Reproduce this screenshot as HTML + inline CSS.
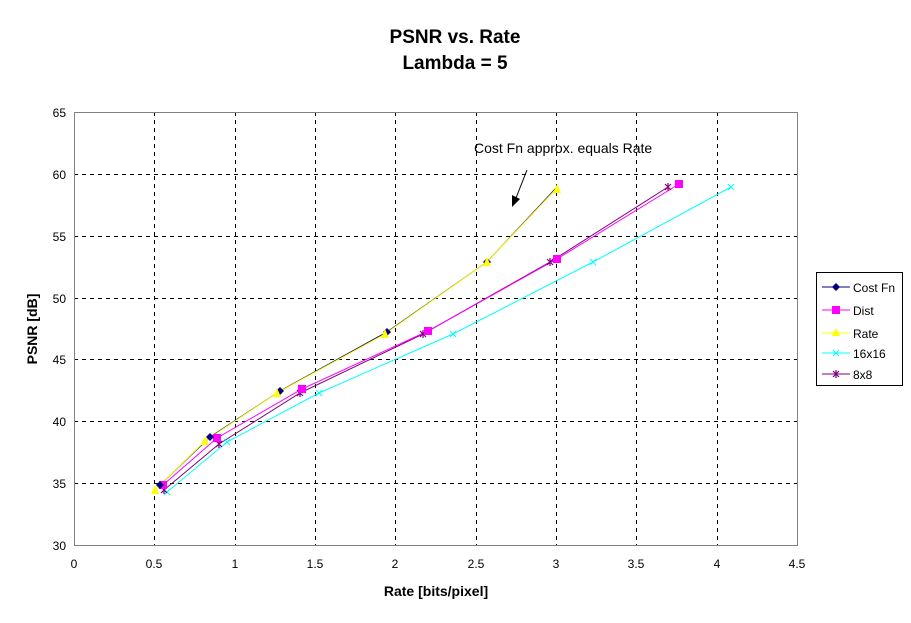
<!DOCTYPE html>
<html><head><style>body{margin:0;background:#fff}svg{display:block}</style></head><body>
<svg width="911" height="623" xmlns="http://www.w3.org/2000/svg" font-family="Liberation Sans, Arial, sans-serif">
<defs>
<g id="xm"><path d="M-3,-3L3,3M-3,3L3,-3" stroke="#00ffff" stroke-width="1"/></g>
<g id="st"><path d="M-3,-3L3,3M-3,3L3,-3M0,-4L0,4" stroke="#800080" stroke-width="1.2"/></g>
</defs>
<rect width="911" height="623" fill="#fff"/>
<text x="455" y="43" font-size="19" font-weight="bold" text-anchor="middle">PSNR vs. Rate</text>
<text x="455" y="69" font-size="19" font-weight="bold" text-anchor="middle">Lambda = 5</text>
<g stroke="#000" stroke-dasharray="4,4" stroke-width="1" shape-rendering="crispEdges">
<line x1="74" y1="174.5" x2="797" y2="174.5"/><line x1="74" y1="236.5" x2="797" y2="236.5"/><line x1="74" y1="298.5" x2="797" y2="298.5"/><line x1="74" y1="359.5" x2="797" y2="359.5"/><line x1="74" y1="421.5" x2="797" y2="421.5"/><line x1="74" y1="483.5" x2="797" y2="483.5"/>
<line x1="154.5" y1="112" x2="154.5" y2="545"/><line x1="235.5" y1="112" x2="235.5" y2="545"/><line x1="315.5" y1="112" x2="315.5" y2="545"/><line x1="395.5" y1="112" x2="395.5" y2="545"/><line x1="476.5" y1="112" x2="476.5" y2="545"/><line x1="556.5" y1="112" x2="556.5" y2="545"/><line x1="636.5" y1="112" x2="636.5" y2="545"/><line x1="717.5" y1="112" x2="717.5" y2="545"/>
</g>
<rect x="74.5" y="112.5" width="723" height="433" fill="none" stroke="#808080" shape-rendering="crispEdges"/>
<g font-size="12" text-anchor="end">
<text x="66" y="117">65</text><text x="66" y="179">60</text><text x="66" y="241">55</text><text x="66" y="303">50</text><text x="66" y="364">45</text><text x="66" y="426">40</text><text x="66" y="488">35</text><text x="66" y="550">30</text>
</g>
<g font-size="12" text-anchor="middle">
<text x="74" y="568">0</text><text x="154" y="568">0.5</text><text x="235" y="568">1</text><text x="315" y="568">1.5</text><text x="395" y="568">2</text><text x="476" y="568">2.5</text><text x="556" y="568">3</text><text x="636" y="568">3.5</text><text x="717" y="568">4</text><text x="797" y="568">4.5</text>
</g>
<text x="436" y="596" font-size="14" font-weight="bold" text-anchor="middle">Rate [bits/pixel]</text>
<text transform="translate(37,329) rotate(-90)" font-size="14" font-weight="bold" text-anchor="middle">PSNR [dB]</text>
<text x="474" y="153" font-size="14">Cost Fn approx. equals Rate</text>
<line x1="527" y1="170" x2="516" y2="198" stroke="#000" stroke-width="1"/>
<polygon points="512,207 512,195 520,199" fill="#000"/>
<polyline fill="none" stroke="#00ffff" points="167,492 227,442 319,393 453,334 593,262 731,187"/>
<polyline fill="none" stroke="#800080" points="164,490 219,444 300,393 423,334 550,262 668,187"/>
<polyline fill="none" stroke="#ff00ff" points="163,485 217,438 302,389 428,331 557,259 679,184"/>
<polyline fill="none" stroke="#000080" points="160,485 210,437 280,391 387,332 487,262 557,187"/>
<polyline fill="none" stroke="#ffff00" points="155,490 205,441 277,393 385,334 487,262 557,188"/>
<use href="#xm" x="167" y="492"/><use href="#xm" x="227" y="442"/><use href="#xm" x="319" y="393"/><use href="#xm" x="453" y="334"/><use href="#xm" x="593" y="262"/><use href="#xm" x="731" y="187"/>
<use href="#st" x="164" y="490"/><use href="#st" x="219" y="444"/><use href="#st" x="300" y="393"/><use href="#st" x="423" y="334"/><use href="#st" x="550" y="262"/><use href="#st" x="668" y="187"/>
<g fill="#ff00ff"><rect x="159" y="481" width="8" height="8"/><rect x="213" y="434" width="8" height="8"/><rect x="298" y="385" width="8" height="8"/><rect x="424" y="327" width="8" height="8"/><rect x="553" y="255" width="8" height="8"/><rect x="675" y="180" width="8" height="8"/></g>
<g fill="#000080"><polygon points="160,481 164,485 160,489 156,485"/><polygon points="210,433 214,437 210,441 206,437"/><polygon points="280,387 284,391 280,395 276,391"/><polygon points="387,328 391,332 387,336 383,332"/><polygon points="487,258 491,262 487,266 483,262"/></g>
<g fill="#ffff00"><polygon points="155,485 151,494 159,494"/><polygon points="205,436 201,445 209,445"/><polygon points="277,388 273,397 281,397"/><polygon points="385,329 381,338 389,338"/><polygon points="487,257 483,266 491,266"/><polygon points="557,184 553,193 561,193"/></g>
<rect x="816.5" y="272.5" width="86" height="113" fill="#fff" stroke="#000" shape-rendering="crispEdges"/>
<g font-size="12">
<line x1="822" y1="287" x2="850" y2="287" stroke="#000080"/><polygon points="836,283 840,287 836,291 832,287" fill="#000080"/><text x="853" y="292">Cost Fn</text>
<line x1="822" y1="310" x2="850" y2="310" stroke="#ff00ff"/><rect x="832" y="306" width="8" height="8" fill="#ff00ff"/><text x="853" y="315">Dist</text>
<line x1="822" y1="333" x2="850" y2="333" stroke="#ffff00"/><polygon points="836,328 832,336 840,336" fill="#ffff00"/><text x="853" y="338">Rate</text>
<line x1="822" y1="353" x2="850" y2="353" stroke="#00ffff"/><use href="#xm" x="836" y="353"/><text x="853" y="358">16x16</text>
<line x1="822" y1="374" x2="850" y2="374" stroke="#800080"/><use href="#st" x="836" y="374"/><text x="853" y="379">8x8</text>
</g>
</svg>
</body></html>
